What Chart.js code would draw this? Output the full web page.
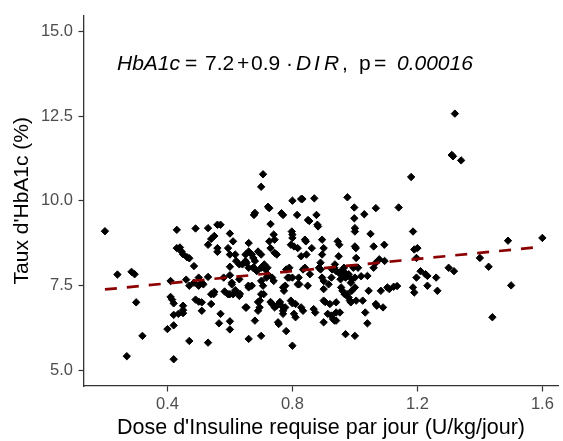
<!DOCTYPE html>
<html><head><meta charset="utf-8">
<script src="https://cdn.jsdelivr.net/npm/chart.js@4"></script>
<style>html,body{margin:0;padding:0;background:#fff}#wrap{width:563px;height:441px}</style>
</head><body><div id="wrap"><canvas id="c" width="563" height="441"></canvas></div>
<script>
// Dose d'insuline requise (U/kg/jour) and HbA1c (%)
const dose = [
0.20,0.24,0.285,0.295,0.27,0.30,0.32,
0.40,0.42,0.42,0.41,0.43,0.43,0.44,0.445,0.45,0.463,0.47,0.41,0.415,0.42,0.45,0.45,0.42,0.435,0.45,0.46,0.47,0.485,0.49,0.49,0.50,0.50,0.47,0.485,
0.51,0.515,0.50,0.51,0.53,0.53,0.54,0.53,0.53,0.54,0.55,0.54,0.55,0.56,0.57,0.56,0.56,0.57,0.565,0.58,0.583,0.594,0.60,0.594,0.60,0.60,0.60,0.60,0.60,0.606,0.61,0.617,0.62,0.61,0.617,
0.63,0.63,0.63,0.64,0.65,0.65,0.65,0.66,0.66,0.66,0.67,0.675,0.677,0.68,0.68,0.66,0.67,0.66,0.677,0.68,0.686,0.69,0.69,0.69,0.695,0.70,0.70,0.70,0.706,0.70,0.70,0.706,0.70,0.708,0.71,0.714,0.717,0.72,0.72,0.722,0.726,0.73,0.726,0.73,
0.735,0.74,0.74,0.743,0.743,0.75,0.73,0.735,0.743,0.75,0.754,0.756,0.765,0.77,0.76,0.765,0.77,0.77,0.777,0.777,0.773,0.78,0.78,0.79,0.79,0.795,0.80,0.798,0.80,0.80,0.805,0.80,0.80,0.795,0.80,0.805,0.81,0.81,0.815,0.817,0.82,0.822,0.828,0.832,0.828,0.828,0.834,0.834,0.84,0.84,0.843,0.845,
0.85,0.854,0.856,0.862,0.87,0.868,0.873,0.877,0.88,0.882,0.885,0.89,0.895,0.90,0.895,0.895,0.90,0.90,0.90,0.90,0.905,0.913,0.916,0.92,0.925,0.93,0.935,0.94,0.94,0.925,0.927,0.934,0.936,0.94,0.945,0.948,0.95,0.953,0.956,0.956,
0.96,0.964,0.967,0.97,0.967,0.97,0.976,0.976,0.98,0.98,0.984,0.987,0.987,0.99,0.99,0.995,0.998,0.998,1.00,1.00,1.00,1.003,1.004,1.00,1.00,1.004,1.01,1.02,1.025,1.03,1.033,1.04,1.04,1.044,1.05,1.06,1.067,1.06,1.067,1.067,1.07,
1.078,1.083,1.09,1.094,1.095,1.104,1.11,1.124,1.135,1.14,1.18,1.186,1.186,1.19,1.19,1.20,1.197,1.197,
1.21,1.226,1.232,1.232,1.26,1.264,1.30,1.317,1.31,1.314,1.32,1.34,1.40,1.428,1.44,1.49,1.50,1.60,
0.653,0.674,0.706,0.606,0.632,0.659,0.77,0.785,0.817,0.849,0.51,0.653,0.696,0.60,0.548,0.89,0.95,0.965,0.954,1.0,0.975,0.94,0.952
];
const hba1c = [
9.10,7.82,7.90,7.83,5.41,7.00,6.01,
6.21,6.32,5.32,7.63,9.14,8.60,8.62,8.50,8.42,8.33,8.30,7.16,7.08,6.97,6.90,6.77,6.63,6.66,6.68,7.67,5.86,8.07,9.18,7.08,7.02,7.73,7.49,7.58,
7.58,7.53,7.49,6.75,9.19,8.70,8.87,5.81,7.75,7.24,7.31,6.95,8.96,9.29,9.29,8.60,8.49,6.66,6.38,7.73,7.32,7.24,9.03,8.60,8.41,8.05,7.80,6.44,6.20,7.53,8.80,8.41,8.22,7.24,7.36,
7.19,7.68,8.12,8.12,8.41,8.22,6.85,8.75,8.50,8.02,8.41,8.31,9.58,9.64,6.46,5.92,7.49,7.44,8.02,8.22,7.92,8.50,7.01,6.75,6.85,7.24,8.41,10.41,10.78,8.02,7.63,7.49,6.01,7.24,8.12,7.97,7.73,8.02,7.83,9.82,9.78,9.31,8.80,8.60,
7.73,7.63,9.00,8.85,8.46,8.41,7.01,6.95,6.85,6.90,6.41,6.36,9.63,9.58,7.01,6.90,6.75,6.66,6.85,7.49,7.34,6.15,7.97,8.02,7.73,8.70,10.00,9.09,9.00,8.90,8.65,7.73,5.72,7.05,6.97,6.66,6.56,6.95,9.58,8.60,7.73,7.53,10.05,10.05,8.36,6.85,6.75,7.97,8.02,8.85,8.80,8.41,
9.43,9.40,7.83,8.60,10.07,6.80,6.70,9.58,9.29,9.24,8.02,7.97,8.85,8.60,8.41,7.73,7.63,7.39,7.05,6.41,7.01,6.66,7.53,6.95,6.61,6.51,6.46,6.46,6.70,7.73,7.97,8.02,8.12,7.92,8.80,8.36,8.70,7.83,7.92,7.44,
7.34,7.78,7.88,7.73,7.24,6.06,10.10,7.78,7.83,7.14,7.05,7.00,7.58,7.68,7.34,8.02,9.80,9.48,9.19,9.09,8.65,8.60,8.31,7.44,6.01,7.05,8.02,7.77,7.05,9.60,6.70,6.38,7.78,7.34,9.02,8.65,9.78,8.02,8.17,6.95,6.90,
8.27,7.34,6.85,8.70,8.22,7.44,7.39,7.46,7.48,9.80,10.70,9.09,7.44,7.29,8.56,8.60,8.31,7.73,
7.92,7.83,7.49,7.78,7.73,7.34,8.02,7.92,11.35,11.31,12.57,11.19,8.31,8.05,6.56,8.82,7.50,8.90,
8.17,8.02,8.07,7.58,7.25,7.49,7.44,7.73,7.53,7.49,7.00,6.85,7.05,7.24,7.24,8.17,7.88,8.02,7.68,7.73,7.24,7.00,6.70
];
// Fitted regression line end points (HbA1c = 7.2 + 0.9 * DIR)
const fitDose = [0.2, 1.6];
const fitHbA1c = [7.38, 8.64];
const xTicks = [0.4, 0.8, 1.2, 1.6];
const yTicks = [5.0, 7.5, 10.0, 12.5, 15.0];

const FONT = "'Liberation Sans', Arial, sans-serif";

const annotation = {
  id: 'annot',
  afterDatasetsDraw(chart) {
    const ctx = chart.ctx;
    ctx.save();
    ctx.fillStyle = '#000';
    ctx.textBaseline = 'alphabetic';
    ctx.textAlign = 'left';
    const base = 70;
    const it = "italic 21px " + FONT;
    const rg = "21px " + FONT;
    const parts = [
      ['HbA1c', it, 117],
      ['=', rg, 185],
      ['7.2', rg, 205],
      ['+', rg, 237],
      ['0.9', rg, 251],
      ['\u00B7', rg, 286],
      ['D', it, 296],
      ['I', it, 314],
      ['R', it, 324],
      [',', rg, 342],
      ['p', rg, 359],
      ['=', rg, 374],
      ['0.00016', it, 397]
    ];
    for (const [t, f, x] of parts) { ctx.font = f; ctx.fillText(t, x, base); }
    ctx.restore();
  }
};

new Chart(document.getElementById('c'), {
  type: 'scatter',
  data: {
    datasets: [
      {
        type: 'line',
        data: fitDose.map((x, i) => ({x, y: fitHbA1c[i]})),
        borderColor: '#8B0000',
        borderWidth: 2.7,
        borderDash: [12, 10],
        pointRadius: 0,
        fill: false,
        order: 0
      },
      {
        data: dose.map((x, i) => ({x, y: hba1c[i]})),
        pointStyle: 'rectRot',
        pointRadius: 3.7,
        backgroundColor: '#000',
        borderColor: '#000',
        borderWidth: 1,
        order: 1
      }
    ]
  },
  options: {
    responsive: false,
    animation: false,
    devicePixelRatio: 1,
    layout: { padding: { top: 12, right: 0, left: 0, bottom: 0 } },
    plugins: { legend: { display: false }, tooltip: { enabled: false } },
    scales: {
      x: {
        type: 'linear', min: 0.133, max: 1.65,
        afterBuildTicks: s => { s.ticks = xTicks.map(v => ({ value: v })); },
        afterFit: s => { s.height = 55; },
        ticks: { callback: v => Number(v).toFixed(1), color: '#4D4D4D', font: { size: 16.5, family: FONT }, padding: 3, maxRotation: 0 },
        grid: { display: true, drawOnChartArea: false, drawTicks: true, tickLength: 5.5, tickColor: '#333', tickWidth: 1.2 },
        border: { display: true, color: '#333', width: 1.3 },
        title: { display: true, text: "Dose d'Insuline requise par jour (U/kg/jour)", color: '#000', font: { size: 21.5, family: FONT }, padding: { top: 0, bottom: 0 } }
      },
      y: {
        type: 'linear', min: 4.53, max: 15.47,
        afterBuildTicks: s => { s.ticks = yTicks.map(v => ({ value: v })); },
        afterFit: s => { s.width = 84; },
        ticks: { callback: v => Number(v).toFixed(1), color: '#4D4D4D', font: { size: 16.5, family: FONT }, padding: 5.5 },
        grid: { display: true, drawOnChartArea: false, drawTicks: true, tickLength: 5.5, tickColor: '#333', tickWidth: 1.2 },
        border: { display: true, color: '#333', width: 1.3 },
        title: { display: true, text: "Taux d'HbA1c (%)", color: '#000', font: { size: 21, family: FONT }, padding: { top: 10, bottom: 0 } }
      }
    }
  },
  plugins: [annotation]
});
</script></body></html>
